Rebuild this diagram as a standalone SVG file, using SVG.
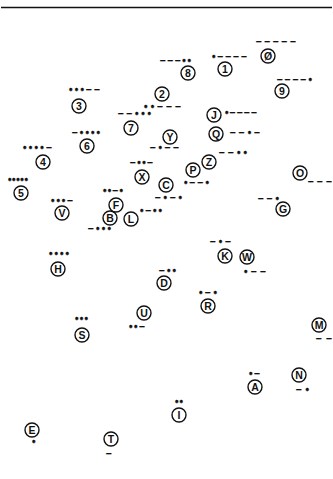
<svg xmlns="http://www.w3.org/2000/svg" width="333" height="479" viewBox="0 0 333 479">
<style>
.c{fill:#fff;stroke:#111;stroke-width:1.4}
.l{font-family:"Liberation Sans",Arial,sans-serif;font-weight:bold;font-size:10.5px;fill:#111;text-anchor:middle}
.m{font-family:"Liberation Sans",Arial,sans-serif;font-weight:bold;font-size:10px;fill:#111;stroke:#111;stroke-width:0.3}
</style>
<rect width="333" height="479" fill="#fff"/>
<line x1="1" y1="7.5" x2="332" y2="7.5" stroke="#111" stroke-width="1.5"/>
<g id="n0"><circle class="c" cx="268" cy="56" r="7"/><text class="l" x="268" y="59.8">Ø</text><text class="m" x="256" y="45.4" textLength="40" lengthAdjust="spacing">−−−−−</text></g>
<g id="n1"><circle class="c" cx="225" cy="69" r="7"/><text class="l" x="225" y="72.8">1</text><text class="m" x="212" y="60.4" textLength="35" lengthAdjust="spacing">•−−−−</text></g>
<g id="n2"><circle class="c" cx="162" cy="94" r="7"/><text class="l" x="162" y="97.8">2</text><text class="m" x="144" y="110.4" textLength="37" lengthAdjust="spacing">••−−−</text></g>
<g id="n3"><circle class="c" cx="79" cy="106" r="7"/><text class="l" x="79" y="109.8">3</text><text class="m" x="69" y="93.4" textLength="31" lengthAdjust="spacing">•••−−</text></g>
<g id="n4"><circle class="c" cx="43" cy="162" r="7"/><text class="l" x="43" y="165.8">4</text><text class="m" x="23" y="151.4" textLength="29" lengthAdjust="spacing">••••−</text></g>
<g id="n5"><circle class="c" cx="21" cy="193" r="7"/><text class="l" x="21" y="196.8">5</text><text class="m" x="8" y="183.4" textLength="20" lengthAdjust="spacing">•••••</text></g>
<g id="n6"><circle class="c" cx="87" cy="146" r="7"/><text class="l" x="87" y="149.8">6</text><text class="m" x="72" y="136.4" textLength="28" lengthAdjust="spacing">−••••</text></g>
<g id="n7"><circle class="c" cx="131" cy="128" r="7"/><text class="l" x="131" y="131.8">7</text><text class="m" x="118" y="117.4" textLength="33" lengthAdjust="spacing">−−•••</text></g>
<g id="n8"><circle class="c" cx="188" cy="73" r="7"/><text class="l" x="188" y="76.8">8</text><text class="m" x="160" y="64.4" textLength="31" lengthAdjust="spacing">−−−••</text></g>
<g id="n9"><circle class="c" cx="282" cy="91" r="7"/><text class="l" x="282" y="94.8">9</text><text class="m" x="277" y="83.4" textLength="35" lengthAdjust="spacing">−−−−•</text></g>
<g id="nA"><circle class="c" cx="255" cy="387" r="7"/><text class="l" x="255" y="390.8">A</text><text class="m" x="249" y="377.4" textLength="11" lengthAdjust="spacing">•−</text></g>
<g id="nB"><circle class="c" cx="110" cy="218" r="7"/><text class="l" x="110" y="221.8">B</text><text class="m" x="88" y="232.4" textLength="23" lengthAdjust="spacing">−•••</text></g>
<g id="nC"><circle class="c" cx="166" cy="185" r="7"/><text class="l" x="166" y="188.8">C</text><text class="m" x="155" y="201.4" textLength="27" lengthAdjust="spacing">−•−•</text></g>
<g id="nD"><circle class="c" cx="164" cy="283" r="7"/><text class="l" x="164" y="286.8">D</text><text class="m" x="159" y="274.4" textLength="17" lengthAdjust="spacing">−••</text></g>
<g id="nE"><circle class="c" cx="32" cy="430" r="7"/><text class="l" x="32" y="433.8">E</text><text class="m" x="32" y="445.4">•</text></g>
<g id="nF"><circle class="c" cx="116" cy="205" r="7"/><text class="l" x="116" y="208.8">F</text><text class="m" x="103" y="194.4" textLength="20" lengthAdjust="spacing">••−•</text></g>
<g id="nG"><circle class="c" cx="283" cy="209" r="7"/><text class="l" x="283" y="212.8">G</text><text class="m" x="258" y="202.4" textLength="21" lengthAdjust="spacing">−−•</text></g>
<g id="nH"><circle class="c" cx="58" cy="269" r="7"/><text class="l" x="58" y="272.8">H</text><text class="m" x="49" y="257.4" textLength="20" lengthAdjust="spacing">••••</text></g>
<g id="nI"><circle class="c" cx="179" cy="415" r="7"/><text class="l" x="179" y="418.8">I</text><text class="m" x="175" y="405.4" textLength="8" lengthAdjust="spacing">••</text></g>
<g id="nJ"><circle class="c" cx="214" cy="115" r="7"/><text class="l" x="214" y="118.8">J</text><text class="m" x="225" y="116.4" textLength="32" lengthAdjust="spacing">•−−−−</text></g>
<g id="nK"><circle class="c" cx="225" cy="256" r="7"/><text class="l" x="225" y="259.8">K</text><text class="m" x="210" y="245.4" textLength="21" lengthAdjust="spacing">−•−</text></g>
<g id="nL"><circle class="c" cx="131" cy="219" r="7"/><text class="l" x="131" y="222.8">L</text><text class="m" x="140" y="214.4" textLength="22" lengthAdjust="spacing">•−••</text></g>
<g id="nM"><circle class="c" cx="319" cy="325" r="7"/><text class="l" x="319" y="328.8">M</text><text class="m" x="316" y="342.4" textLength="16" lengthAdjust="spacing">−−</text></g>
<g id="nN"><circle class="c" cx="299" cy="375" r="7"/><text class="l" x="299" y="378.8">N</text><text class="m" x="296" y="393.4" textLength="13" lengthAdjust="spacing">−•</text></g>
<g id="nO"><circle class="c" cx="300" cy="173" r="7"/><text class="l" x="300" y="176.8">O</text><text class="m" x="308" y="185.4" textLength="24" lengthAdjust="spacing">−−−</text></g>
<g id="nP"><circle class="c" cx="193" cy="170" r="7"/><text class="l" x="193" y="173.8">P</text><text class="m" x="184" y="186.4" textLength="25" lengthAdjust="spacing">•−−•</text></g>
<g id="nQ"><circle class="c" cx="216" cy="134" r="7"/><text class="l" x="216" y="137.8">Q</text><text class="m" x="230" y="136.4" textLength="30" lengthAdjust="spacing">−−•−</text></g>
<g id="nR"><circle class="c" cx="208" cy="306" r="7"/><text class="l" x="208" y="309.8">R</text><text class="m" x="199" y="296.4" textLength="18" lengthAdjust="spacing">•−•</text></g>
<g id="nS"><circle class="c" cx="82" cy="335" r="7"/><text class="l" x="82" y="338.8">S</text><text class="m" x="75" y="322.4" textLength="13" lengthAdjust="spacing">•••</text></g>
<g id="nT"><circle class="c" cx="111" cy="439" r="7"/><text class="l" x="111" y="442.8">T</text><text class="m" x="106" y="457.4">−</text></g>
<g id="nU"><circle class="c" cx="144" cy="313" r="7"/><text class="l" x="144" y="316.8">U</text><text class="m" x="129" y="330.4" textLength="16" lengthAdjust="spacing">••−</text></g>
<g id="nV"><circle class="c" cx="62" cy="213" r="7"/><text class="l" x="62" y="216.8">V</text><text class="m" x="51" y="204.4" textLength="22" lengthAdjust="spacing">•••−</text></g>
<g id="nW"><circle class="c" cx="247" cy="257" r="7"/><text class="l" x="247" y="260.8">W</text><text class="m" x="244" y="275.4" textLength="22" lengthAdjust="spacing">•−−</text></g>
<g id="nX"><circle class="c" cx="142" cy="177" r="7"/><text class="l" x="142" y="180.8">X</text><text class="m" x="130" y="166.4" textLength="23" lengthAdjust="spacing">−••−</text></g>
<g id="nY"><circle class="c" cx="170" cy="137" r="7"/><text class="l" x="170" y="140.8">Y</text><text class="m" x="150" y="151.4" textLength="29" lengthAdjust="spacing">−•−−</text></g>
<g id="nZ"><circle class="c" cx="209" cy="162" r="7"/><text class="l" x="209" y="165.8">Z</text><text class="m" x="219" y="156.4" textLength="28" lengthAdjust="spacing">−−••</text></g>
</svg>
